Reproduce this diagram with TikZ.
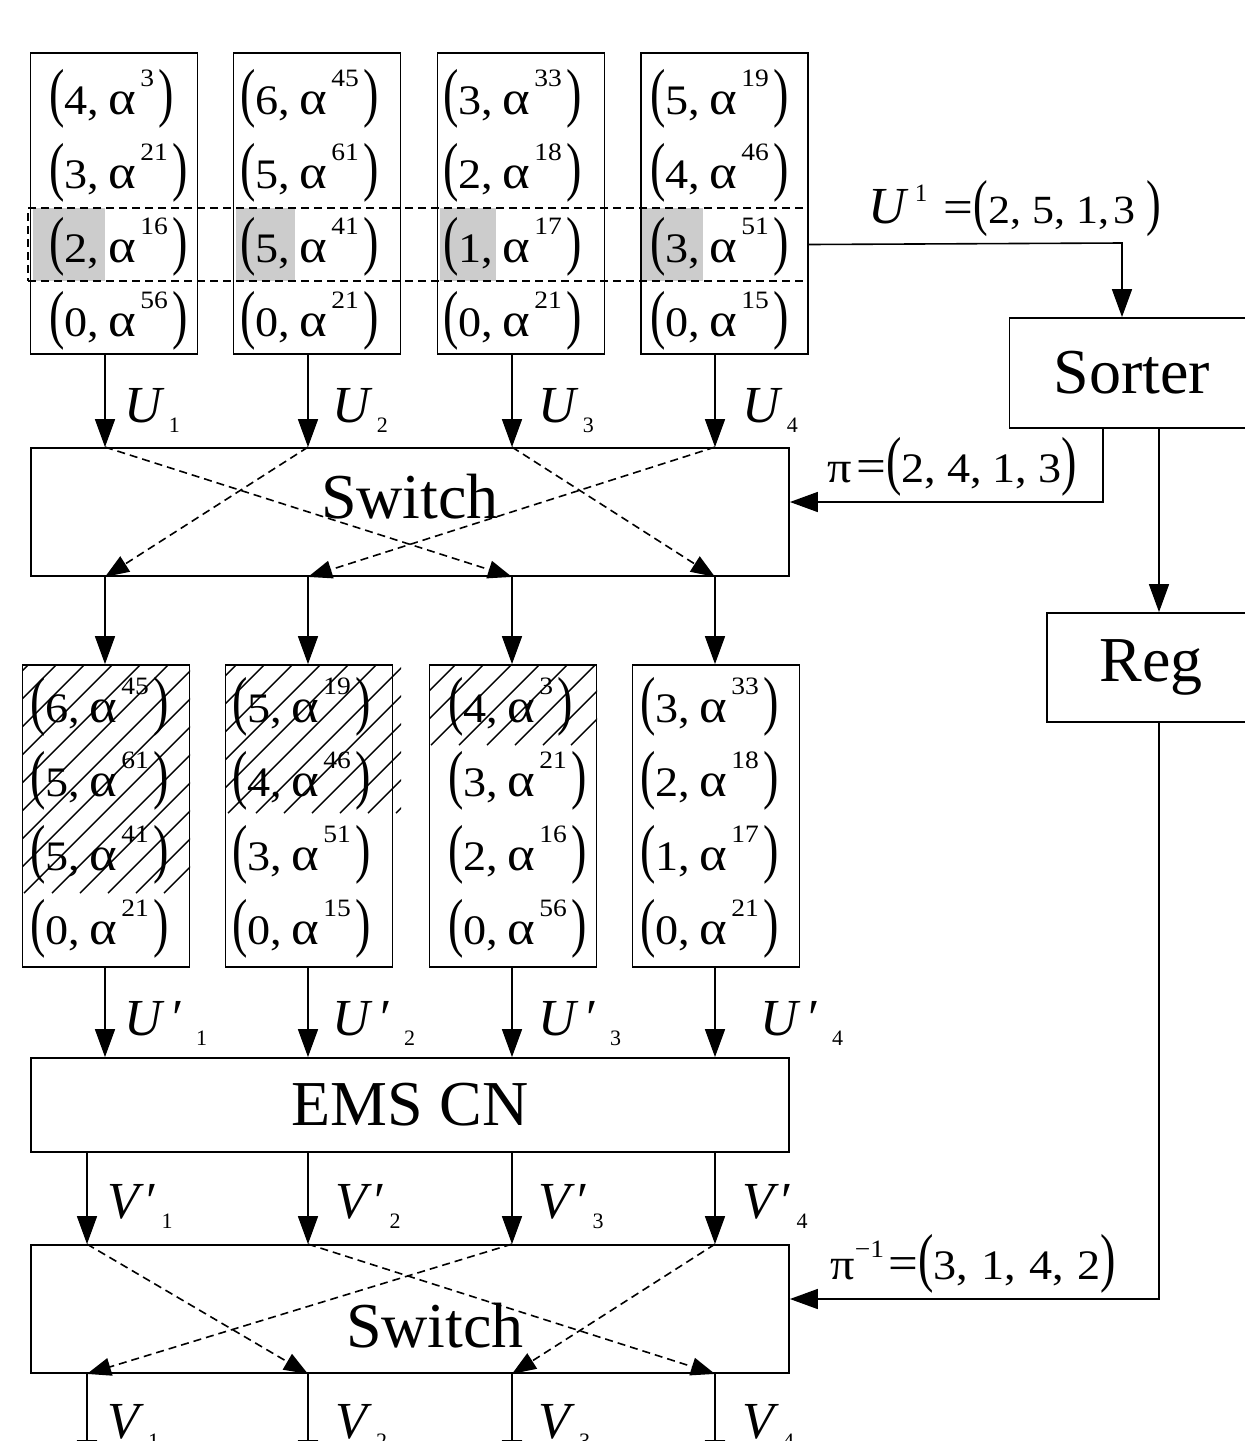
\documentclass[tikz,border=0pt]{standalone}
\usepackage{fontspec}
\setmainfont{Liberation Serif}
\usetikzlibrary{arrows.meta}

\newcommand\lp{\scalebox{1}[1.55]{(}}
\newcommand\rp{\scalebox{1}[1.55]{)}}
\newcommand\sups[1]{\raisebox{14pt}{\fontsize{12.5}{12.5}\selectfont #1}}
\newcommand\subs[1]{\raisebox{-5pt}{\fontsize{11}{11}\selectfont #1}}
\newcommand\wide[1]{\scalebox{1.1}[1]{#1}}
\newcommand\tup[2]{\wide{\lp#1,\hspace{4pt}{\fontsize{24}{24}\selectfont α}\hspace{2pt}\sups{#2}\hspace{2pt}\rp}}
\newcommand\lab[2]{\textit{#1}\hspace{2pt}\subs{#2}}
\newcommand\labp[2]{\textit{#1}\hspace{4pt}′\hspace{6pt}\subs{#2}}
\newcommand\eq{\hspace{2pt}{\fontsize{24}{24}\selectfont =}}

\begin{document}
\begin{tikzpicture}[x=0.5pt, y=-0.5pt,
  box/.style={draw, line width=0.9pt, inner sep=0pt},
  arr/.style={line width=0.8pt, -{Triangle[length=14pt,width=10pt]}},
  cross/.style={line width=0.8pt, dash pattern=on 4pt off 2.5pt,
    -{Triangle[length=12pt,width=9pt]}},
  hatch/.style={line width=0.7pt},
  row/.style={anchor=base west, inner sep=0pt, font=\fontsize{21}{21}\selectfont},
  lbl/.style={anchor=base west, inner sep=0pt, font=\fontsize{26}{26}\selectfont},
  big/.style={font=\fontsize{32}{32}\selectfont}]

  \useasboundingbox (0,0) rectangle (1245,1441);
  \clip (0,0) rectangle (1245,1441);

  % columns
  \foreach \i/\x in {1/105, 2/308, 3/512, 4/715}
    \coordinate (c\i) at (\x,0);
  \foreach \i/\x in {1/87, 2/308, 3/512, 4/715}
    \coordinate (d\i) at (\x,0);
  \coordinate (bot) at (0,1468);

  % selected entries
  \fill[gray!40] (33,208) rectangle (105,281);
  \fill[gray!40] (236,208) rectangle (295,281);
  \fill[gray!40] (440,208) rectangle (496,281);
  \fill[gray!40] (642,208) rectangle (703,281);

  % input columns
  \foreach \n/\cx in {1/114, 2/317, 3/521, 4/724.5}
    \node[box, minimum width=83.5pt, minimum height=150.5pt] (in\n) at (\cx,203.5) {};
  \foreach \a/\b [count=\r] in {4/3, 3/21, 2/16, 0/56}
    \node[row] (in1r\r) at (49,{40+74*\r}) {\tup{\a}{\b}};
  \foreach \a/\b [count=\r] in {6/45, 5/61, 5/41, 0/21}
    \node[row] (in2r\r) at (240,{40+74*\r}) {\tup{\a}{\b}};
  \foreach \a/\b [count=\r] in {3/33, 2/18, 1/17, 0/21}
    \node[row] (in3r\r) at (443,{40+74*\r}) {\tup{\a}{\b}};
  \foreach \a/\b [count=\r] in {5/19, 4/46, 3/51, 0/15}
    \node[row] (in4r\r) at (650,{40+74*\r}) {\tup{\a}{\b}};

  \node[draw, line width=0.8pt, dash pattern=on 4pt off 2.5pt, inner sep=0pt,
    minimum width=390pt, minimum height=36.5pt] (sel) at (418,244.5) {};

  % sorted columns
  \foreach \n/\cx in {1/106, 2/309, 3/513, 4/716}
    \node[box, minimum width=83.5pt, minimum height=151pt] (out\n) at (\cx,816) {};
  \foreach \a/\b [count=\r] in {6/45, 5/61, 5/41, 0/21}
    \node[row] (out1r\r) at (30,{648+74*\r}) {\tup{\a}{\b}};
  \foreach \a/\b [count=\r] in {5/19, 4/46, 3/51, 0/15}
    \node[row] (out2r\r) at (232,{648+74*\r}) {\tup{\a}{\b}};
  \foreach \a/\b [count=\r] in {4/3, 3/21, 2/16, 0/56}
    \node[row] (out3r\r) at (448,{648+74*\r}) {\tup{\a}{\b}};
  \foreach \a/\b [count=\r] in {3/33, 2/18, 1/17, 0/21}
    \node[row] (out4r\r) at (640,{648+74*\r}) {\tup{\a}{\b}};

  % hatched entries
  \foreach \xa/\ya/\xb/\yb in {22/665/190/893, 226/665/401/813, 429/665/597/745}{
    \begin{scope}
      \clip (\xa,\ya) rectangle (\xb,\yb);
      \foreach \k in {0,...,24}
        \draw[hatch] ({\xa-250+28*\k},\yb) -- +(260,-260);
    \end{scope}
  }

  % blocks
  \node[box, minimum width=379pt, minimum height=64pt] (sw1) at (410,512) {};
  \node[big] (sw1t) at (410,497) {Switch};
  \node[box, minimum width=379pt, minimum height=47pt] (ems) at (410,1105) {};
  \node[big] (emst) at (410,1105) {EMS CN};
  \node[box, minimum width=379pt, minimum height=64pt] (sw2) at (410,1309) {};
  \node[big] (sw2t) at (435,1326) {Switch};
  \node[box, big, minimum width=122.5pt, minimum height=55pt] (sorter) at (1132,373) {Sorter};
  \node[box, big, minimum width=104pt, minimum height=54.5pt] (reg) at (1151,667.5) {\raisebox{-4pt}{Reg}};

  % vertical data paths
  \foreach \i in {1,...,4}{
    \draw[arr] (in\i.south -| c\i) -- (sw1.north -| c\i);
    \draw[arr] (sw1.south -| c\i) -- (out\i.north -| c\i);
    \draw[arr] (out\i.south -| c\i) -- (ems.north -| c\i);
    \draw[arr] (ems.south -| d\i) -- (sw2.north -| d\i);
    \draw[arr] (sw2.south -| d\i) -- (d\i |- bot);
  }

  % permutations
  \foreach \i/\o in {1/3, 2/1, 3/4, 4/2}
    \draw[cross] (sw1.north -| c\i) -- (sw1.south -| c\o);
  \foreach \i/\o in {1/2, 2/4, 3/1, 4/3}
    \draw[cross] (sw2.north -| d\i) -- (sw2.south -| d\o);

  % labels
  \foreach \i/\x in {1/124, 2/332, 3/538, 4/742}
    \node[lbl] (u\i) at (\x,422) {\lab{U}{\i}};
  \foreach \i/\x in {1/124, 2/332, 3/538, 4/760}
    \node[lbl] (up\i) at (\x,1035) {\labp{U}{\i}};
  \foreach \i/\x in {1/107, 2/335, 3/538, 4/742}
    \node[lbl] (vp\i) at (\x,1218) {\textit{V}\hspace{1pt}′\hspace{2pt}\subs{\i}};
  \foreach \i/\x in {1/107, 2/335, 3/538, 4/742}
    \node[lbl] (v\i) at (\x,1438) {\lab{V}{\i}};

  % control path
  \coordinate (k1) at (1122,243);
  \coordinate (k2) at (1103,502);
  \coordinate (k3) at (1159,1299);
  \draw[arr] (sel.east) -- (k1) -- (sorter.north -| k1);
  \draw[arr] (sorter.south -| k2) |- (sw1.east |- k2);
  \draw[arr] (sorter.south -| k3) -- (reg.north -| k3);
  \draw[arr] (reg.south -| k3) |- (sw2.east |- k3);

  \node[lbl] (ulab) at (868,223)
    {\textit{U}\hspace{3pt}\raisebox{11pt}{\fontsize{12.5}{12.5}\selectfont 1}\hspace{6pt}%
     {\fontsize{20}{20}\selectfont\wide{\eq\lp2,\hspace{5pt}5,\hspace{5pt}1,\hspace{2pt}3\hspace{5pt}\rp}}};
  \node[row] (pilab) at (827,482)
    {\wide{{\fontsize{22}{22}\selectfont π}\eq\lp2,\hspace{5pt}4,\hspace{5pt}1,\hspace{5pt}3\rp}};
  \node[row] (pilabinv) at (830,1279)
    {\wide{{\fontsize{22}{22}\selectfont π}\raisebox{11pt}{\fontsize{12.5}{12.5}\selectfont −1}\eq\lp3,\hspace{6pt}1,\hspace{6pt}4,\hspace{6pt}2\rp}};
\end{tikzpicture}
\end{document}
